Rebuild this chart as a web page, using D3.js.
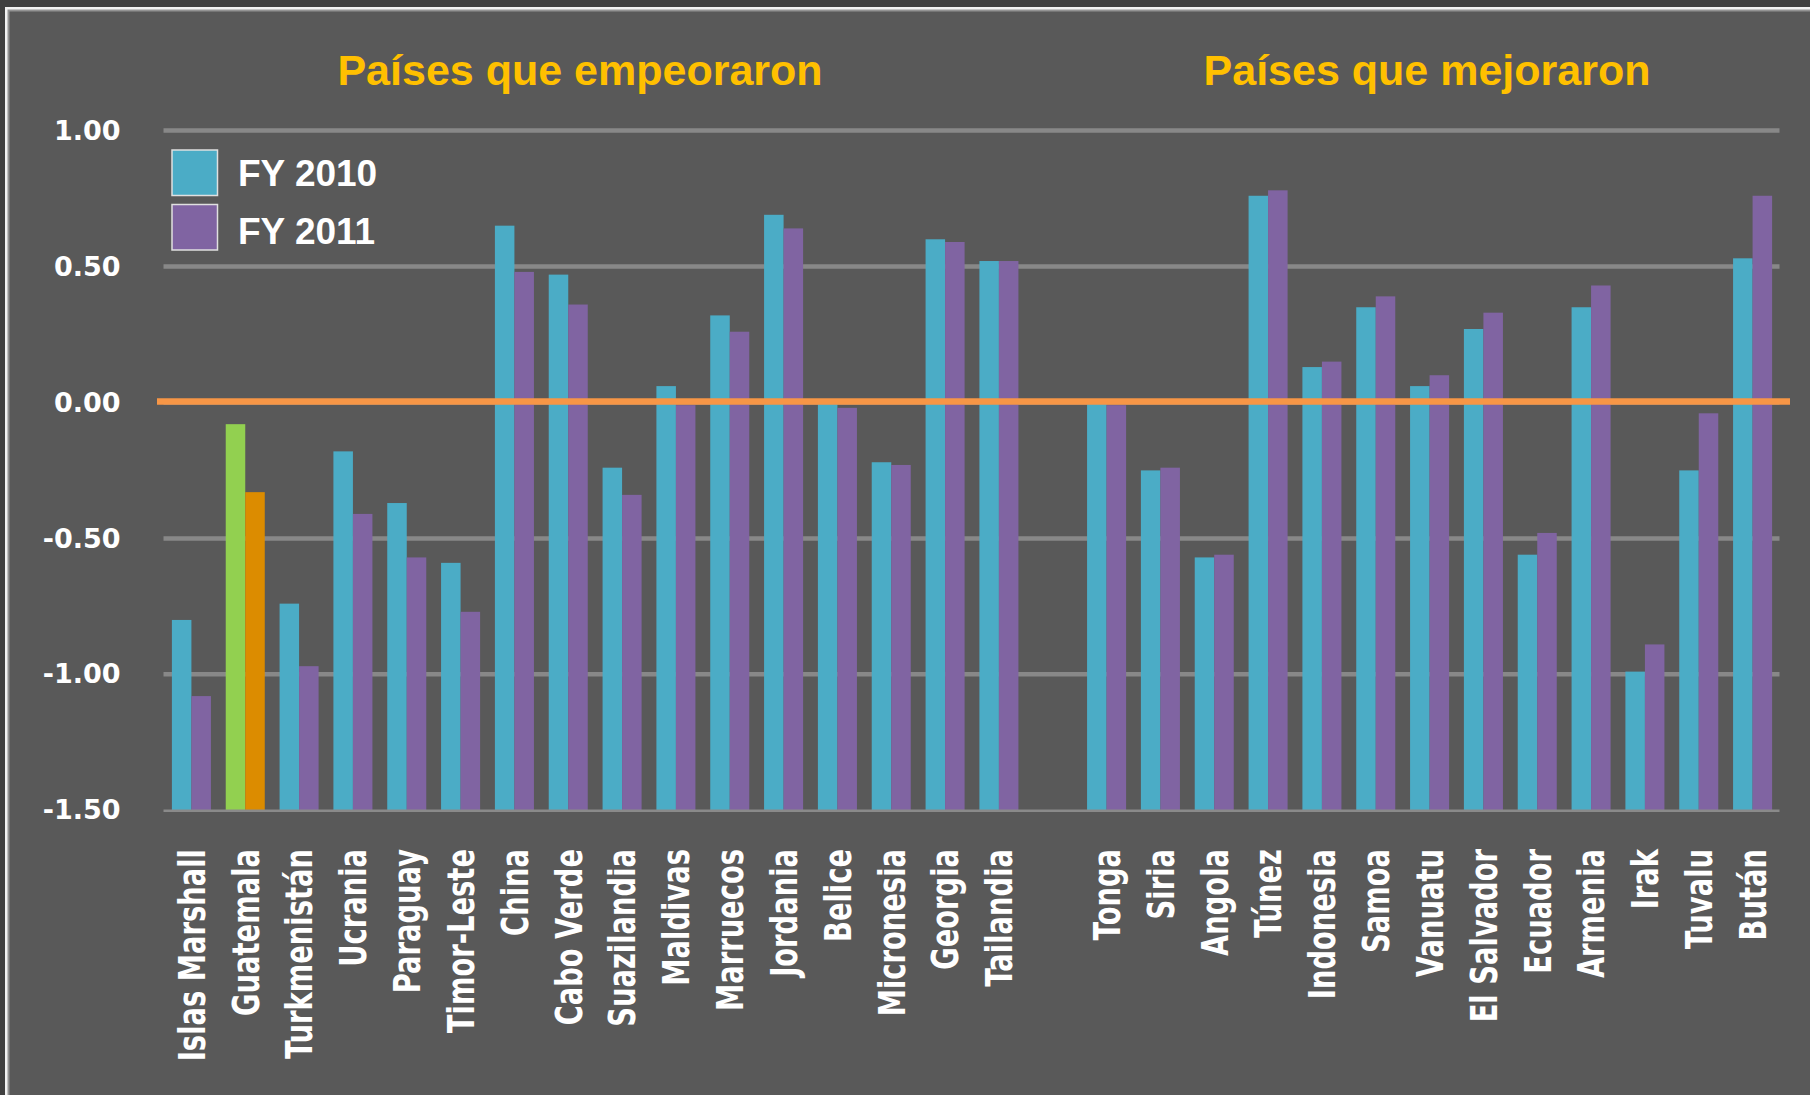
<!DOCTYPE html>
<html>
<head>
<meta charset="utf-8">
<script src="https://cdn.jsdelivr.net/npm/d3@7/dist/d3.min.js"></script>
<style>
  body { margin: 0; background: #404040; }
  svg { display: block; }
</style>
</head>
<body>
<svg id="chart"></svg>
<script>
// datos: países que empeoraron / mejoraron
const worseCountries = ["Islas Marshall", "Guatemala", "Turkmenistán", "Ucrania", "Paraguay", "Timor-Leste",
  "China", "Cabo Verde", "Suazilandia", "Maldivas", "Marruecos", "Jordania", "Belice", "Micronesia",
  "Georgia", "Tailandia"];
const worse2010 = [-0.80, -0.08, -0.74, -0.18, -0.37, -0.59, 0.65, 0.47, -0.24, 0.06, 0.32, 0.69, 0.00, -0.22, 0.60, 0.52];
const worse2011 = [-1.08, -0.33, -0.97, -0.41, -0.57, -0.77, 0.48, 0.36, -0.34, -0.01, 0.26, 0.64, -0.02, -0.23, 0.59, 0.52];

const betterCountries = ["Tonga", "Siria", "Angola", "Túnez", "Indonesia", "Samoa", "Vanuatu", "El Salvador",
  "Ecuador", "Armenia", "Irak", "Tuvalu", "Bután"];
const better2010 = [0.00, -0.25, -0.57, 0.76, 0.13, 0.35, 0.06, 0.27, -0.56, 0.35, -0.99, -0.25, 0.53];
const better2011 = [-0.01, -0.24, -0.56, 0.78, 0.15, 0.39, 0.10, 0.33, -0.48, 0.43, -0.89, -0.04, 0.76];

const seriesNames = ["FY 2010", "FY 2011"];
const groupTitles = ["Países que empeoraron", "Países que mejoraron"];
const yTicks = [-1.5, -1.0, -0.5, 0.0, 0.5, 1.0];
const highlightCountry = "Guatemala";

const seriesColors = ["#4BACC6", "#8064A2"];
const highlightColors = ["#92D050", "#DC8C00"];

const W = 1810, H = 1095;
const plot = { left: 164.5, right: 1779.5, top: 130.5, bottom: 810.3 };

// un hueco vacío entre los dos grupos
const GAP = "__gap__";
const categories = [...worseCountries, GAP, ...betterCountries];
const rows = [
  ...worseCountries.map((c, i) => ({ country: c, values: [worse2010[i], worse2011[i]] })),
  ...betterCountries.map((c, i) => ({ country: c, values: [better2010[i], better2011[i]] }))
];

const svg = d3.select("#chart").attr("width", W).attr("height", H);

// marco
svg.append("rect").attr("width", W).attr("height", H).attr("fill", "#404040");
svg.append("rect").attr("x", 5).attr("y", 7).attr("width", W - 5).attr("height", H - 7).attr("fill", "#f2f2f2");
svg.append("rect").attr("x", 7.5).attr("y", 9.5).attr("width", W - 7.5).attr("height", H - 9.5).attr("fill", "#939393");
svg.append("rect").attr("x", 9.5).attr("y", 11.5).attr("width", W - 9.5).attr("height", H - 11.5).attr("fill", "#595959");

const x = d3.scaleBand()
  .domain(categories)
  .range([plot.left, plot.right])
  .paddingInner(0.275)
  .paddingOuter(0.1375);

const x1 = d3.scaleBand()
  .domain(d3.range(seriesNames.length))
  .range([0, x.bandwidth()]);

const y = d3.scaleLinear()
  .domain([-1.5, 1.0])
  .range([plot.bottom, plot.top]);

// líneas de cuadrícula
svg.append("g")
  .selectAll("line")
  .data(yTicks.filter(t => t > -1.5))
  .join("line")
  .attr("x1", plot.left - 1)
  .attr("x2", plot.right)
  .attr("y1", d => y(d))
  .attr("y2", d => y(d))
  .attr("stroke", "#888888")
  .attr("stroke-width", 4.5);

// barras (la base es el mínimo del eje)
const groups = svg.append("g")
  .selectAll("g")
  .data(rows)
  .join("g")
  .attr("transform", d => `translate(${x(d.country)},0)`);

groups.selectAll("rect")
  .data(d => d.values.map((v, i) => ({ v, i, country: d.country })))
  .join("rect")
  .attr("x", d => x1(d.i))
  .attr("width", x1.bandwidth())
  .attr("y", d => y(d.v))
  .attr("height", d => y(-1.5) - y(d.v))
  .attr("fill", d => d.country === highlightCountry ? highlightColors[d.i] : seriesColors[d.i]);

// línea base
svg.append("line")
  .attr("x1", plot.left - 1).attr("x2", plot.right)
  .attr("y1", y(-1.5) + 0.5).attr("y2", y(-1.5) + 0.5)
  .attr("stroke", "#8a8a8a")
  .attr("stroke-width", 2.5);

// línea de cero
svg.append("line")
  .attr("x1", 157).attr("x2", 1790)
  .attr("y1", y(0) - 1).attr("y2", y(0) - 1)
  .attr("stroke", "#F79646")
  .attr("stroke-width", 6.5);

// eje y (guion normal, no signo menos)
const yAxis = svg.append("g")
  .attr("transform", `translate(${plot.left},0)`)
  .call(d3.axisLeft(y).tickValues(yTicks).tickFormat(d => d.toFixed(2)).tickSize(0).tickPadding(44));
yAxis.select(".domain").remove();
yAxis.selectAll("text")
  .attr("fill", "#ffffff")
  .style("font-family", "'DejaVu Sans', sans-serif")
  .style("font-weight", "bold")
  .style("font-size", "27px");

// etiquetas de países (giradas)
svg.append("g")
  .selectAll("text")
  .data(rows)
  .join("text")
  .attr("transform", d => `translate(${x(d.country) + x.bandwidth() / 2},849) rotate(-90) scale(0.74,1)`)
  .attr("text-anchor", "end")
  .attr("dy", "0.36em")
  .attr("fill", "#ffffff")
  .style("font-family", "'DejaVu Sans', sans-serif")
  .style("font-weight", "bold")
  .style("font-size", "37px")
  .text(d => d.country);

// títulos
svg.append("g")
  .selectAll("text")
  .data(groupTitles)
  .join("text")
  .attr("x", (d, i) => [580, 1427][i])
  .attr("y", 85)
  .attr("text-anchor", "middle")
  .attr("fill", "#FFC000")
  .style("font-family", "'Liberation Sans', Arial, sans-serif")
  .style("font-weight", "bold")
  .style("font-size", "43px")
  .text(d => d);

// leyenda
const legend = svg.append("g").attr("transform", "translate(172,150)");
seriesNames.forEach((name, i) => {
  legend.append("rect")
    .attr("x", 0)
    .attr("y", i * 54.5)
    .attr("width", 45.5)
    .attr("height", 45.5)
    .attr("fill", seriesColors[i])
    .attr("stroke", "#e0e0e0")
    .attr("stroke-width", 1.5);
  legend.append("text")
    .attr("x", 66)
    .attr("y", i * 57.5 + 36)
    .attr("fill", "#ffffff")
    .style("font-family", "'Liberation Sans', Arial, sans-serif")
    .style("font-weight", "bold")
    .style("font-size", "37px")
    .text(name);
});
</script>
</body>
</html>
